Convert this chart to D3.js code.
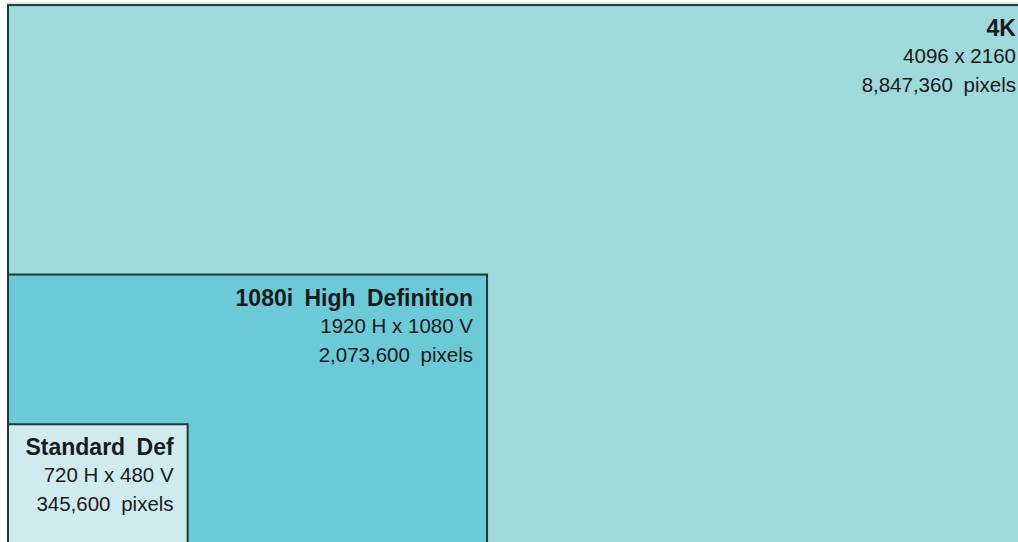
<!DOCTYPE html>
<html>
<head>
<meta charset="utf-8">
<script src="https://cdn.jsdelivr.net/npm/d3@7"></script>
<style>
  body { margin: 0; background: #fff; }
  svg { display: block; }
  text { font-family: "Liberation Sans", Arial, sans-serif; fill: #1a1a1a; }
</style>
</head>
<body>
<div id="chart"></div>
<script>
// resolutions, largest first so the smaller ones are drawn on top
const formats = ["4K", "1080i High Definition", "Standard Def"];
const widthsPx = [4096, 1920, 720];
const heightsPx = [2160, 1080, 480];
const sizeLabels = ["4096 x 2160", "1920 H x 1080 V", "720 H x 480 V"];
const pixelLabels = ["8,847,360 pixels", "2,073,600 pixels", "345,600 pixels"];
const fills = ["#a0d9dc", "#6ccad8", "#d0ebf0"];

const W = 1018, H = 542;
const origin = {x: 8, y: 544};
const k = 0.2495; // screen px per video px

const svg = d3.select("#chart").append("svg")
    .attr("width", W)
    .attr("height", H);

const x = d3.scaleLinear().domain([0, 4096]).range([origin.x, origin.x + 4096 * k]);
const y = d3.scaleLinear().domain([0, 2160]).range([origin.y, origin.y - 2160 * k]);

const data = formats.map((f, i) => ({
    name: f, w: widthsPx[i], h: heightsPx[i],
    size: sizeLabels[i], pixels: pixelLabels[i], fill: fills[i]
}));

// faint shadow line above the outer frame
svg.append("line")
    .attr("x1", x(0) - 2).attr("x2", W)
    .attr("y1", y(2160) - 2).attr("y2", y(2160) - 2)
    .attr("stroke", "#c8c8c8").attr("stroke-width", 1);

const g = svg.selectAll(".fmt")
    .data(data)
    .enter()
    .append("g")
    .attr("class", "fmt");

g.append("rect")
    .attr("x", d => x(0))
    .attr("y", d => y(d.h))
    .attr("width", d => x(d.w) - x(0))
    .attr("height", d => y(0) - y(d.h))
    .attr("fill", d => d.fill)
    .attr("stroke", "#163c3c")
    .attr("stroke-width", 2);

g.append("text")
    .attr("x", d => x(d.w) - 14)
    .attr("y", d => y(d.h) + 31)
    .attr("text-anchor", "end")
    .attr("font-weight", "bold")
    .attr("font-size", 23)
    .attr("word-spacing", 5)
    .text(d => d.name);

g.append("text")
    .attr("x", d => x(d.w) - 14)
    .attr("y", d => y(d.h) + 58)
    .attr("text-anchor", "end")
    .attr("font-size", 20.5)
    .text(d => d.size);

g.append("text")
    .attr("x", d => x(d.w) - 14)
    .attr("y", d => y(d.h) + 87)
    .attr("text-anchor", "end")
    .attr("font-size", 20.5)
    .attr("word-spacing", 5)
    .text(d => d.pixels);
</script>
</body>
</html>
